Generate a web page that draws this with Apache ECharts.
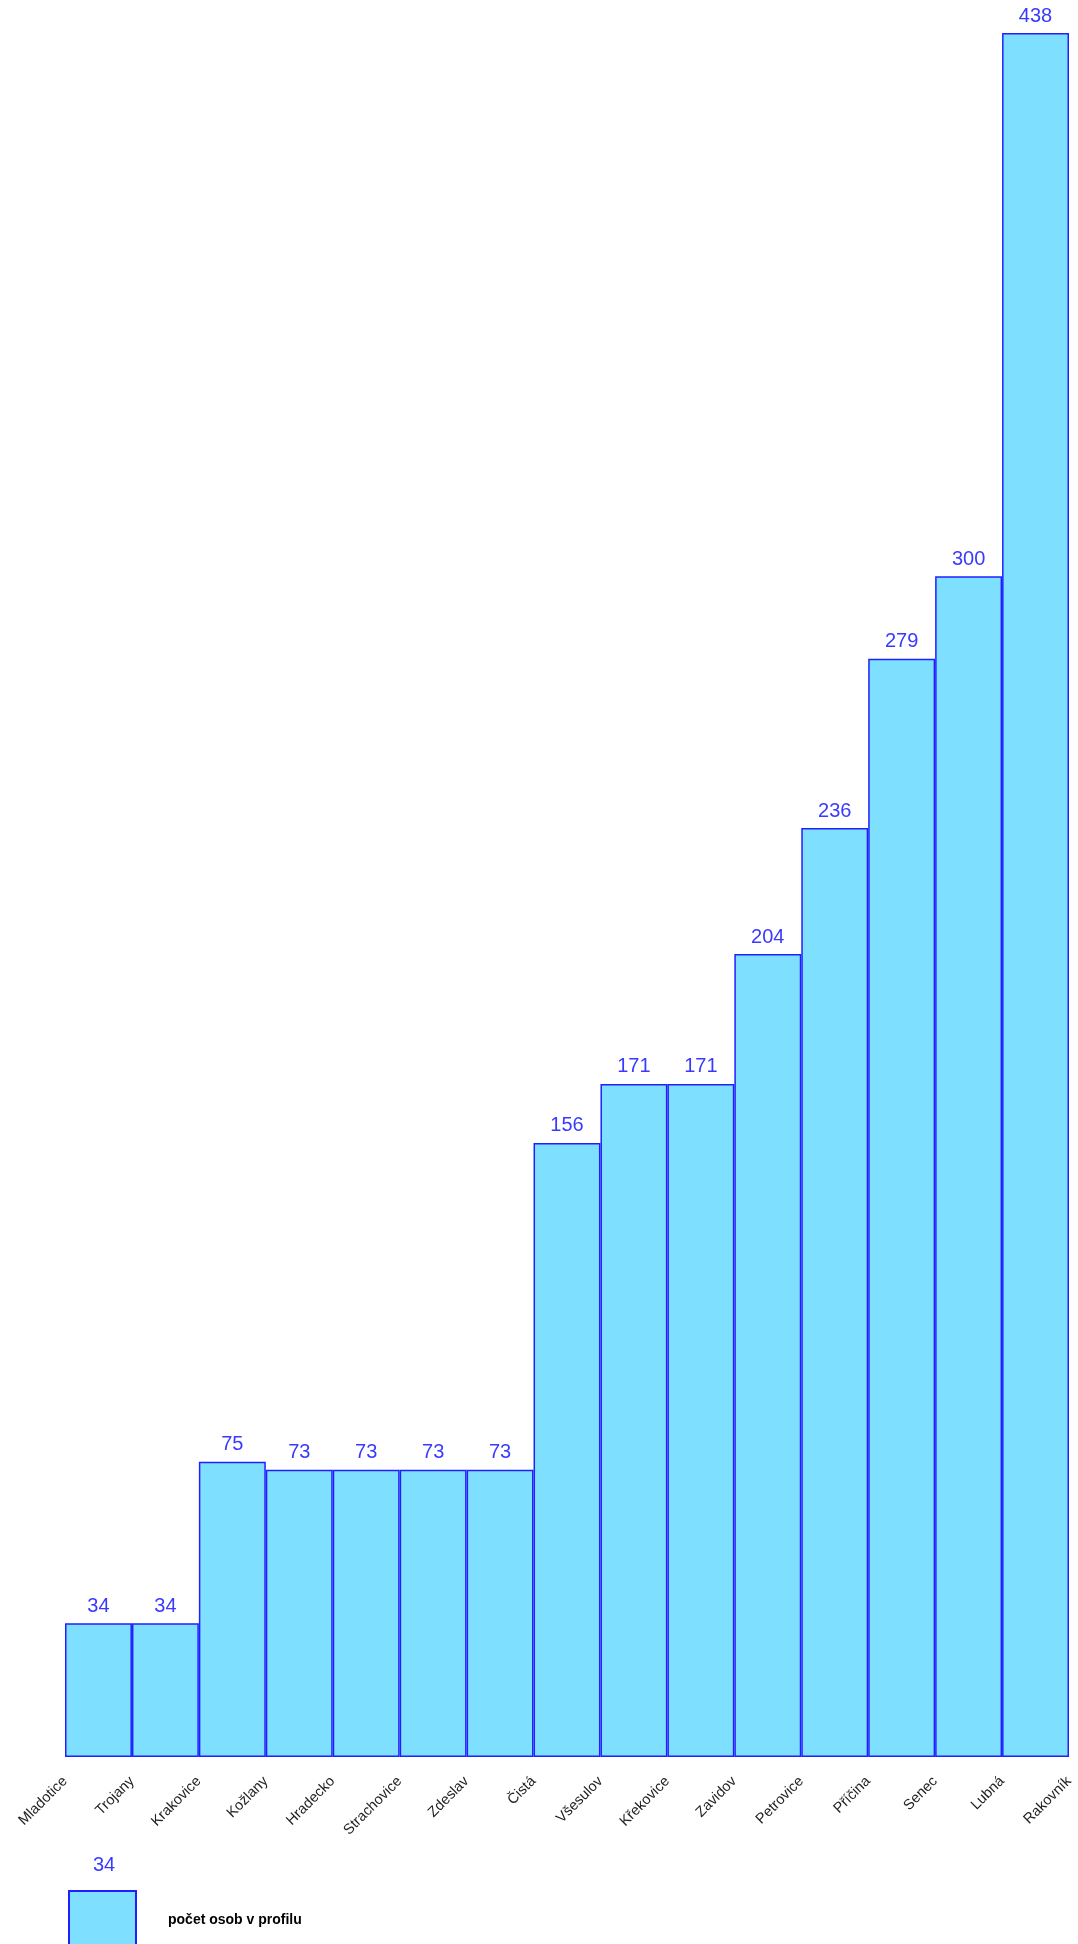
<!DOCTYPE html>
<html>
<head>
<meta charset="utf-8">
<script src="https://cdn.jsdelivr.net/npm/echarts@6/dist/echarts.min.js"></script>
<style>
  html, body { margin: 0; padding: 0; background: #fff; }
</style>
</head>
<body>
<div id="chart" style="width: 1078px; height: 1944px"></div>
<script>
// tick labels sit on the bar boundaries (16 names, 15 bars)
var places = ['Mladotice', 'Trojany', 'Krakovice', 'Kožlany', 'Hradecko', 'Strachovice', 'Zdeslav', 'Čistá',
  'Všesulov', 'Křekovice', 'Zavidov', 'Petrovice', 'Příčina', 'Senec', 'Lubná', 'Rakovník']
var counts = [34, 34, 75, 73, 73, 73, 73, 156, 171, 171, 204, 236, 279, 300, 438]
var seriesName = 'počet osob v profilu'

var myChart = echarts.init(document.getElementById('chart'))
var font = 'Arial, "Liberation Sans", sans-serif'

var option = {
  animation: false,
  textStyle: { fontFamily: font },
  grid: { left: 65, right: 9, top: 33, bottom: 187, containLabel: false },
  legend: {
    data: [seriesName],
    left: 63,
    top: 1885,
    icon: 'rect',
    itemWidth: 67,
    itemHeight: 58,
    textStyle: { fontFamily: font, fontWeight: 'bold', fontSize: 14, color: '#000', padding: [0, 0, 0, 27] }
  },
  graphic: [
    { type: 'text', left: 93, top: 1855, style: { text: String(counts[0]), fill: '#3a3aff', font: '20px ' + font } }
  ],
  xAxis: [
    {
      type: 'category',
      data: counts.map(function (v, i) { return i }),
      show: false
    },
    {
      type: 'category',
      data: places,
      boundaryGap: false,
      position: 'bottom',
      axisLine: { show: false },
      axisTick: { show: false },
      axisLabel: { rotate: 45, margin: 22, fontSize: 14.5, color: '#222', fontFamily: font, interval: 0 }
    }
  ],
  yAxis: { type: 'value', min: 0, max: 438, show: false },
  series: [
    {
      name: seriesName,
      type: 'bar',
      xAxisIndex: 0,
      data: counts,
      barWidth: '100%',
      barGap: 0,
      itemStyle: { color: '#7fdfff', borderColor: '#2020ff', borderWidth: 1.5 },
      label: { show: true, position: 'top', distance: 7, fontSize: 20, color: '#3a3aff', fontFamily: font }
    }
  ]
}
myChart.setOption(option)
</script>
</body>
</html>
